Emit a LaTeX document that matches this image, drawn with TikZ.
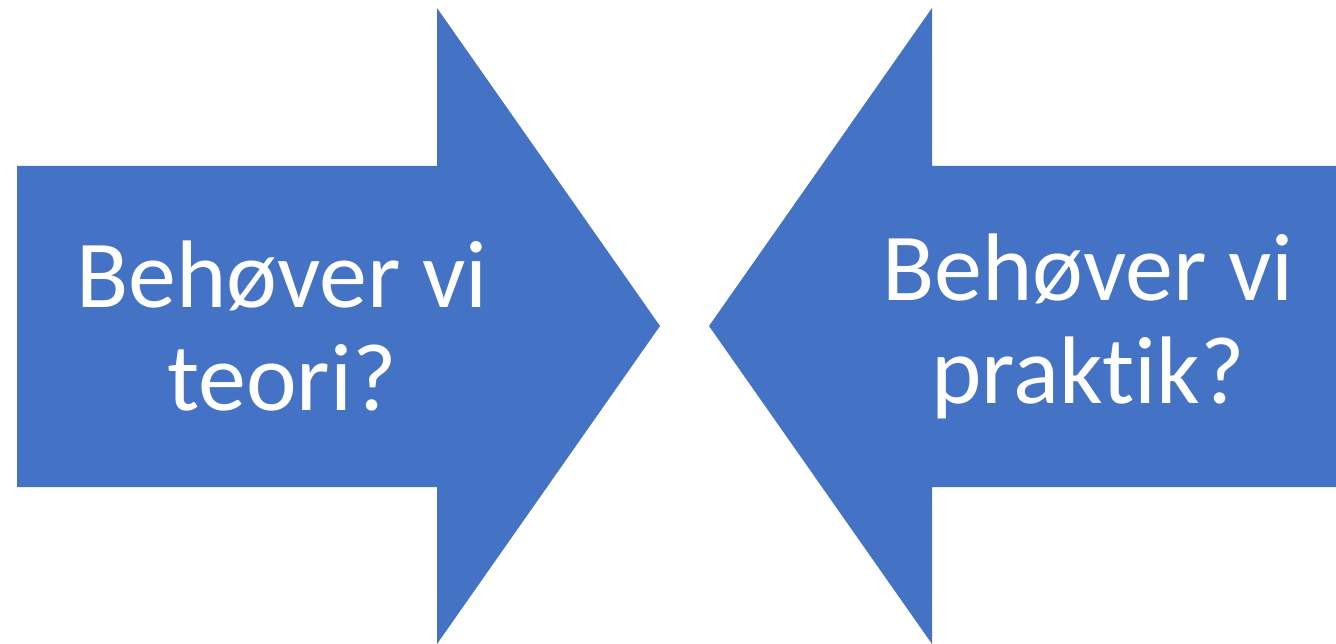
\documentclass[tikz,border=0pt]{standalone}
\usepackage{fontspec}
\setmainfont{Carlito}[Ligatures=NoCommon]
\definecolor{arrowblue}{HTML}{4472C4}
\tikzset{
  arrowshape/.style={fill=arrowblue, draw=none},
  arrowtext/.style={text=white, align=center, inner sep=0pt, font=\fontsize{96}{103}\selectfont}
}
\begin{document}
\begin{tikzpicture}[x=1pt,y=-1pt]
\useasboundingbox (0,0) rectangle (1336,644);
\path[arrowshape] (17,166) -- (437,166) -- (437,8) -- (660,326) -- (437,644) -- (437,487) -- (17,487) -- cycle;
\path[arrowshape] (1336,166) -- (932,166) -- (932,8) -- (709,326) -- (932,644) -- (932,487) -- (1336,487) -- cycle;
\node[arrowtext] (lefttext) at (282,326) {Behøver vi\\teori?};
\node[arrowtext] (righttext) at (1088,326) {Behøver vi\\praktik?};
\end{tikzpicture}
\end{document}
